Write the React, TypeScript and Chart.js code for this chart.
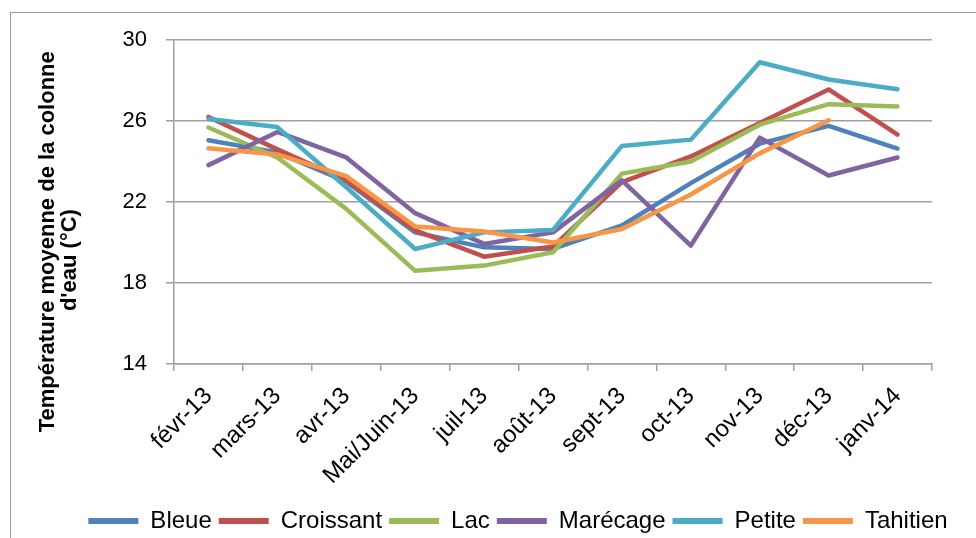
import { useEffect, useRef } from "react";
import { Chart, registerables } from "chart.js";

Chart.register(...registerables);

const categories = [
  "févr-13",
  "mars-13",
  "avr-13",
  "Mai/Juin-13",
  "juil-13",
  "août-13",
  "sept-13",
  "oct-13",
  "nov-13",
  "déc-13",
  "janv-14",
];

const bleue = [25.05, 24.45, 23.0, 20.5, 19.76, 19.68, 20.84, 22.93, 24.88, 25.76, 24.64];
const croissant = [26.2, 24.6, 23.07, 20.6, 19.3, 19.8, 22.98, 24.25, 25.9, 27.56, 25.33];
const lac = [25.68, 24.2, 21.66, 18.6, 18.86, 19.52, 23.4, 24.0, 25.82, 26.83, 26.72];
const marecage = [23.82, 25.46, 24.2, 21.45, 19.93, 20.5, 23.07, 19.85, 25.18, 23.31, 24.2];
const petite = [26.1, 25.7, 22.73, 19.68, 20.5, 20.62, 24.77, 25.08, 28.9, 28.05, 27.57];
const tahitien = [24.65, 24.35, 23.28, 20.79, 20.54, 20.0, 20.67, 22.37, 24.4, 26.04, null];

const seriesNames = ["Bleue", "Croissant", "Lac", "Marécage", "Petite", "Tahitien"];
const seriesData = [bleue, croissant, lac, marecage, petite, tahitien];
const seriesColors = ["#4F81BD", "#C0504D", "#9BBB59", "#8064A2", "#4BACC6", "#F79646"];

const yMin = 14;
const yMax = 30;
const yStep = 4;

const yTitleLines = ["Température moyenne de la colonne", "d'eau (°C)"];

const FONT = "'Liberation Sans', Arial, sans-serif";
const GRID = "#a0a0a0";

const legendShift = {
  id: "legendShift",
  afterLayout(chart: any) {
    const l = chart.legend;
    if (!l) return;
    l.left += 52;
    l.right += 52;
    l.top += 5;
    l.bottom += 5;
  },
};

export default function App() {
  const canvasRef = useRef<HTMLCanvasElement | null>(null);

  useEffect(() => {
    if (!canvasRef.current) return;
    Chart.defaults.font.family = FONT;
    const defaultLabels = (Chart.defaults as any).plugins.legend.labels.generateLabels;
    const chart = new Chart(canvasRef.current, {
      type: "line",
      data: {
        labels: categories,
        datasets: seriesNames.map((name, i) => ({
          label: name,
          data: seriesData[i],
          borderColor: seriesColors[i],
          backgroundColor: seriesColors[i],
          borderWidth: 4.5,
          pointRadius: 0,
          pointHoverRadius: 0,
          tension: 0,
          fill: false,
          borderCapStyle: "round",
          borderJoinStyle: "round",
          order: seriesNames.length - i,
        })),
      },
      options: {
        animation: false,
        responsive: true,
        maintainAspectRatio: false,
        events: [],
        layout: { padding: { left: 0, right: 44, top: 40, bottom: 0 } },
        plugins: {
          tooltip: { enabled: false },
          title: { display: false },
          legend: {
            display: true,
            position: "bottom",
            labels: {
              usePointStyle: true,
              pointStyle: "line",
              pointStyleWidth: 50,
              padding: 7,
              color: "#000",
              font: { size: 24, family: FONT },
              sort: (a: any, b: any) => a.datasetIndex - b.datasetIndex,
              generateLabels: (chart: any) =>
                defaultLabels(chart).map((it: any) => ({ ...it, lineWidth: 6 })),
            },
          },
        },
        scales: {
          x: {
            offset: true,
            afterFit: (s: any) => {
              s.height = 133;
            },
            grid: {
              offset: true,
              drawOnChartArea: false,
              drawTicks: true,
              tickLength: 7,
              color: GRID,
              lineWidth: 1.5,
            },
            border: { display: true, color: GRID, width: 1.5 },
            ticks: {
              minRotation: 45,
              maxRotation: 45,
              autoSkip: false,
              padding: 11,
              color: "#000",
              font: { size: 24, family: FONT },
            },
          },
          y: {
            min: yMin,
            max: yMax,
            afterFit: (s: any) => {
              s.width = 174;
            },
            grid: {
              color: GRID,
              lineWidth: 1.5,
              drawTicks: true,
              tickLength: 8,
            },
            border: { display: true, color: GRID, width: 1.5 },
            ticks: {
              stepSize: yStep,
              padding: 19,
              color: "#000",
              font: { size: 22, family: FONT },
            },
            title: {
              display: true,
              text: [yTitleLines[0] + " ".repeat(13), yTitleLines[1] + " ".repeat(19)],
              color: "#000",
              font: { size: 22, weight: "bold", family: FONT, lineHeight: 1.0 },
              padding: { top: 37, bottom: 0 },
            },
          },
        },
      },
      plugins: [legendShift],
    } as any);
    return () => chart.destroy();
  }, []);

  return (
    <div
      style={{
        position: "fixed",
        left: 0,
        top: 0,
        width: 976,
        height: 538,
        background: "#fff",
        overflow: "hidden",
      }}
    >
      <div
        style={{
          position: "absolute",
          left: 10,
          top: 12,
          width: 1100,
          height: 700,
          borderLeft: "1.5px solid #9a9a9a",
          borderTop: "1.5px solid #9a9a9a",
        }}
      />
      <div style={{ position: "absolute", left: 0, top: 0, width: 976, height: 538 }}>
        <canvas ref={canvasRef} />
      </div>
    </div>
  );
}
